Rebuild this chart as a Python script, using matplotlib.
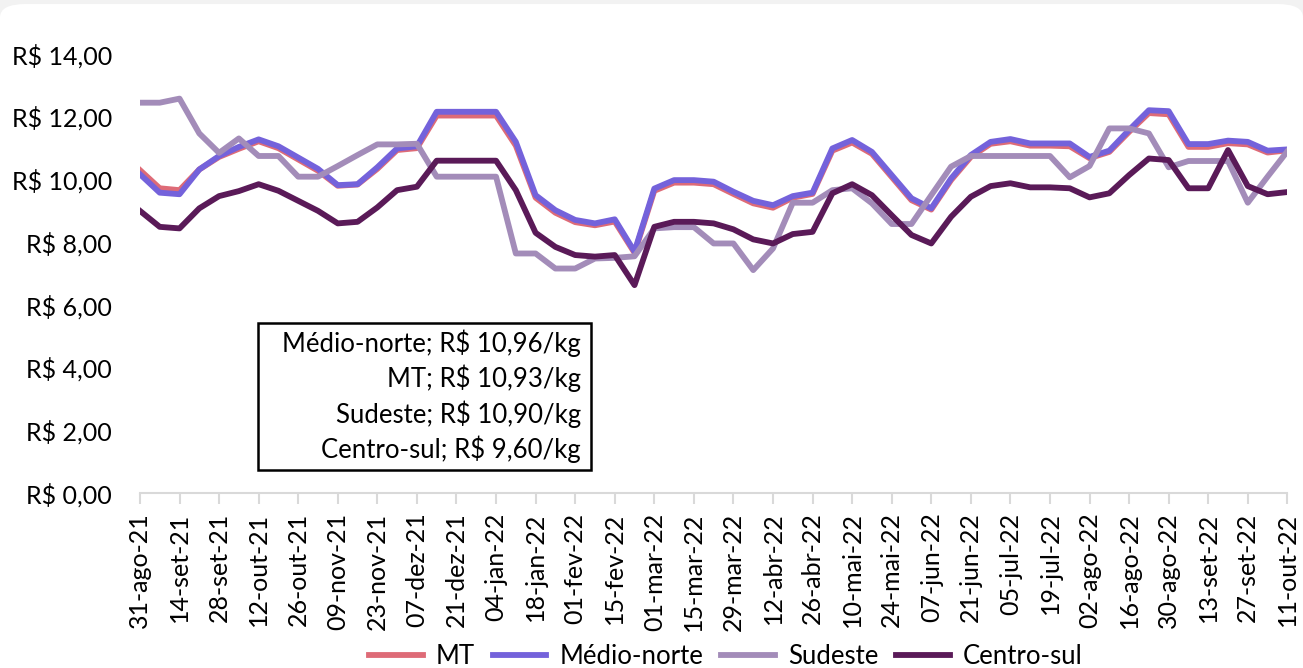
import matplotlib
matplotlib.use("Agg")
import matplotlib.pyplot as plt
from matplotlib.patches import FancyBboxPatch, Rectangle

plt.rcParams['font.family'] = ['Lato', 'DejaVu Sans']

tick_labels = ['31-ago-21', '14-set-21', '28-set-21', '12-out-21', '26-out-21',
               '09-nov-21', '23-nov-21', '07-dez-21', '21-dez-21', '04-jan-22',
               '18-jan-22', '01-fev-22', '15-fev-22', '01-mar-22', '15-mar-22',
               '29-mar-22', '12-abr-22', '26-abr-22', '10-mai-22', '24-mai-22',
               '07-jun-22', '21-jun-22', '05-jul-22', '19-jul-22', '02-ago-22',
               '16-ago-22', '30-ago-22', '13-set-22', '27-set-22', '11-out-22']

mt = [10.30, 9.72, 9.66, 10.32, 10.72, 10.98, 11.22, 11.00, 10.64, 10.28,
      9.80, 9.84, 10.34, 10.94, 11.00, 12.04, 12.04, 12.04, 12.04, 11.08,
      9.42, 8.94, 8.64, 8.54, 8.66, 7.66, 9.64, 9.90, 9.90, 9.85,
      9.54, 9.24, 9.10, 9.42, 9.54, 10.92, 11.18, 10.82, 10.08, 9.34,
      9.04, 9.98, 10.72, 11.14, 11.22, 11.08, 11.08, 11.06, 10.68, 10.88,
      11.52, 12.12, 12.08, 11.04, 11.04, 11.16, 11.12, 10.86, 10.93]

medio_norte = [10.17, 9.58, 9.53, 10.32, 10.75, 11.04, 11.28, 11.06, 10.70, 10.34,
               9.82, 9.85, 10.39, 10.99, 11.06, 12.16, 12.16, 12.16, 12.16, 11.20,
               9.50, 9.02, 8.71, 8.60, 8.73, 7.70, 9.71, 9.98, 9.98, 9.93,
               9.61, 9.32, 9.18, 9.47, 9.58, 10.99, 11.26, 10.88, 10.14, 9.40,
               9.08, 10.03, 10.78, 11.20, 11.29, 11.15, 11.15, 11.15, 10.72, 10.92,
               11.58, 12.21, 12.18, 11.13, 11.13, 11.24, 11.20, 10.92, 10.96]

sudeste = [12.45, 12.45, 12.58, 11.47, 10.85, 11.31, 10.75, 10.75, 10.09, 10.09,
           10.43, 10.78, 11.12, 11.12, 11.14, 10.09, 10.09, 10.09, 10.09, 7.64,
           7.64, 7.16, 7.16, 7.48, 7.50, 7.55, 8.44, 8.48, 8.48, 7.96,
           7.96, 7.11, 7.80, 9.26, 9.26, 9.66, 9.72, 9.24, 8.58, 8.58,
           9.50, 10.41, 10.75, 10.75, 10.75, 10.75, 10.75, 10.07, 10.43, 11.63,
           11.63, 11.47, 10.39, 10.59, 10.59, 10.59, 9.26, 10.09, 10.90]

centro_sul = [9.00, 8.49, 8.44, 9.08, 9.47, 9.63, 9.85, 9.64, 9.32, 9.00,
              8.60, 8.65, 9.11, 9.66, 9.77, 10.60, 10.60, 10.60, 10.60, 9.66,
              8.30, 7.85, 7.59, 7.54, 7.59, 6.63, 8.49, 8.65, 8.65, 8.60,
              8.41, 8.09, 7.96, 8.26, 8.33, 9.56, 9.85, 9.50, 8.86, 8.23,
              7.96, 8.81, 9.45, 9.79, 9.88, 9.75, 9.75, 9.72, 9.43, 9.56,
              10.14, 10.67, 10.62, 9.72, 9.72, 10.94, 9.79, 9.53, 9.60]

series = [('MT', mt, '#de6b77'),
          ('Médio-norte', medio_norte, '#7462db'),
          ('Sudeste', sudeste, '#a38cb9'),
          ('Centro-sul', centro_sul, '#5a1a58')]

box_text = ('Médio-norte; R$ 10,96/kg\nMT; R$ 10,93/kg\n'
            'Sudeste; R$ 10,90/kg\nCentro-sul; R$ 9,60/kg')

fig = plt.figure(figsize=(13.03, 6.68), dpi=100, facecolor='#f2f2f2')
fig.patches.append(FancyBboxPatch((0.0, -0.05), 1.0, 1.044,
                                  boxstyle='round,pad=0,rounding_size=0.02',
                                  transform=fig.transFigure, facecolor='white',
                                  edgecolor='none', zorder=-5))

ax = fig.add_axes([0.1074, 0.262, 0.8806, 0.657])
ax.set_facecolor('none')
x = list(range(len(mt)))
for name, vals, color in series:
    ax.plot(x, vals, color=color, lw=4.2, label=name)

ax.set_xlim(0, len(mt) - 1)
ax.set_ylim(0, 14)
ax.set_yticks(range(0, 15, 2))
ax.set_yticklabels(['R$ %d,00' % v for v in range(0, 15, 2)], fontsize=18)
ax.tick_params(axis='y', length=0, pad=20)
ax.set_xticks(x[::2])
ax.set_xticklabels(tick_labels, rotation=90, fontsize=18)
ax.tick_params(axis='x', length=8, color='#d9d9d9', width=1.5, pad=6)
for s in ['top', 'right', 'left']:
    ax.spines[s].set_visible(False)
ax.spines['bottom'].set_color('#d9d9d9')
ax.spines['bottom'].set_linewidth(1.5)

# caixa com os valores da última semana
ax.add_patch(Rectangle((0.103, 0.052), 0.290, 0.335, transform=ax.transAxes,
                       facecolor='white', edgecolor='black', linewidth=1.8,
                       zorder=5))
ax.text(0.3845, 0.22, box_text, transform=ax.transAxes, ha='right', va='center',
        fontsize=18.5, linespacing=1.35, multialignment='right', zorder=6)

fig.legend(loc='lower center', bbox_to_anchor=(0.557, -0.036), ncol=4,
           frameon=False, fontsize=18.5, handlelength=2.1, handletextpad=0.5,
           columnspacing=0.7)

fig.savefig('out.png', dpi=100, facecolor=fig.get_facecolor())
